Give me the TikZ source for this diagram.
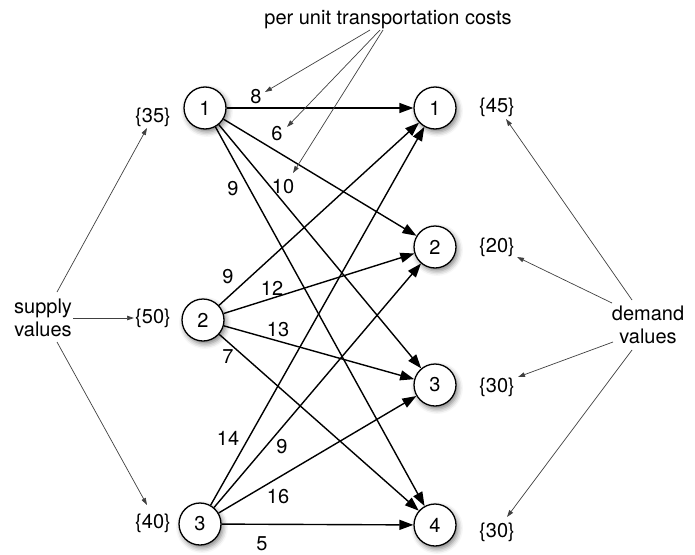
\documentclass[tikz,border=0pt]{standalone}
\usepackage{fontspec}
\setmainfont{TeX Gyre Heros}
\usetikzlibrary{arrows.meta,shadows.blur}
\begin{document}
\begin{tikzpicture}[x=1pt,y=-1pt,
  every node/.style={font=\fontsize{20}{23}\selectfont},
  nd/.style={circle,draw,line width=1.3pt,fill=white,minimum size=42pt,inner sep=0pt,
    blur shadow={shadow xshift=2pt,shadow yshift=-3pt,shadow blur radius=5pt,shadow opacity=50}},
  edge/.style={line width=1.4pt,-{Triangle[length=14pt,width=10pt]}},
  note/.style={line width=0.7pt,draw=black!75,-{Triangle[length=7pt,width=4.5pt]}},
  lbl/.style={inner sep=1pt}]
\useasboundingbox (0,0) rectangle (695,554);
% nodes
\node[nd] (s1) at (205,108) {1};
\node[nd] (s2) at (203,320) {2};
\node[nd] (s3) at (200,524) {3};
\node[nd] (d1) at (435,108) {1};
\node[nd] (d2) at (435,247) {2};
\node[nd] (d3) at (435,385) {3};
\node[nd] (d4) at (435,525) {4};
% edges
\foreach \s in {s1,s2,s3}{
  \foreach \d in {d1,d2,d3,d4}{
    \draw[edge] (\s) -- (\d);
  }
}
% cost labels
\node[lbl] (c11) at (256,97) {8};
\node[lbl] (c12) at (277,134) {6};
\node[lbl] (c13) at (283,187) {10};
\node[lbl] (c14) at (233,189) {9};
\node[lbl] (c21) at (228,277) {9};
\node[lbl] (c22) at (272,288) {12};
\node[lbl] (c23) at (278,330) {13};
\node[lbl] (c24) at (228,357) {7};
\node[lbl] (c31) at (228,438) {14};
\node[lbl] (c32) at (282,447) {9};
\node[lbl] (c33) at (278,497) {16};
\node[lbl] (c34) at (262,544) {5};
% supply / demand labels
\node[lbl] (sv1) at (153,117) {\{35\}};
\node[lbl] (sv2) at (153,318) {\{50\}};
\node[lbl] (sv3) at (153,523) {\{40\}};
\node[lbl] (dv1) at (497,107) {\{45\}};
\node[lbl] (dv2) at (497,247) {\{20\}};
\node[lbl] (dv3) at (497,387) {\{30\}};
\node[lbl] (dv4) at (497,532) {\{30\}};
% annotations
\node[lbl] (pu) at (388,20) {per unit transportation costs};
\node[lbl,align=center] (sup) at (43,318) {supply\\values};
\node[lbl,align=center] (dem) at (648,325) {demand\\values};
% annotation arrows
\coordinate (p1) at (370,30);
\coordinate (p2) at (380,30);
\coordinate (p3) at (383,30);
\coordinate (a11) at (265,92);
\coordinate (a12) at (287,127);
\coordinate (a13) at (293,173);
\draw[note] (p1) -- (a11);
\draw[note] (p2) -- (a12);
\draw[note] (p3) -- (a13);
\coordinate (q1) at (57,292);
\coordinate (q2) at (73,318);
\coordinate (q3) at (57,342);
\coordinate (b1) at (147,128);
\coordinate (b3) at (147,505);
\draw[note] (q1) -- (b1);
\draw[note] (q2) -- (sv2.west);
\draw[note] (q3) -- (b3);
\coordinate (r1) at (632,300);
\coordinate (r2) at (612,303);
\coordinate (r3) at (613,342);
\coordinate (r4) at (632,350);
\coordinate (e1) at (506,119);
\coordinate (e2) at (517,257);
\coordinate (e3) at (518,377);
\coordinate (e4) at (507,517);
\draw[note] (r1) -- (e1);
\draw[note] (r2) -- (e2);
\draw[note] (r3) -- (e3);
\draw[note] (r4) -- (e4);
\end{tikzpicture}
\end{document}
